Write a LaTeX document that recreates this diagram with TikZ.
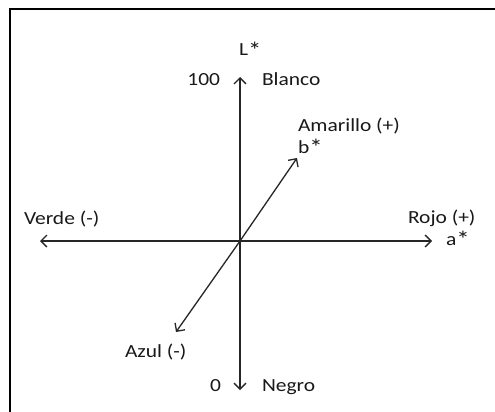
\documentclass[tikz,border=0pt]{standalone}
\usepackage{fontspec}
\setmainfont{Carlito}
\usetikzlibrary{arrows.meta}
\newcommand{\lbl}[1]{\scalebox{1.16}[1]{#1}}
\newcommand{\myast}{\raisebox{-2.5pt}{\scalebox{1.25}{*}}}
\tikzset{
  axis/.style={line width=1.3pt, draw=black!85, -{Straight Barb[length=6pt,width=12pt,line width=1.3pt]}},
  txt/.style={inner sep=0pt, outer sep=0pt, text=black!90, font=\fontsize{18.5}{20}\selectfont},
  frame/.style={line width=2.8pt, draw=black}
}
\begin{document}
\begin{tikzpicture}[x=1pt,y=-1pt]
\useasboundingbox (0,0) rectangle (495,412);
\fill[white] (0,0) rectangle (495,412);
\draw[frame] (10,413) -- (10,9) -- (496,9);
\coordinate (O) at (240,241);
\coordinate (top) at (240,77);
\coordinate (bot) at (240,390);
\coordinate (left) at (40,241);
\coordinate (right) at (432,241);
\coordinate (bp) at (297,158);
\coordinate (bm) at (176,332);
\draw[axis] (O) -- (top);
\draw[axis] (O) -- (bot);
\draw[axis] (O) -- (left);
\draw[axis] (O) -- (right);
\draw[axis] (O) -- (bp);
\draw[axis] (O) -- (bm);
\node[txt, anchor=base west] (Lstar) at (239,56) {\lbl{L\myast}};
\node[txt, anchor=base east] (hundred) at (220,85) {\lbl{100}};
\node[txt, anchor=base west] (blanco) at (262,85) {\lbl{Blanco}};
\node[txt, anchor=base west] (amarillo) at (298,131) {\lbl{Amarillo (+)}};
\node[txt, anchor=base west] (bstar) at (298,153) {\lbl{b\myast}};
\node[txt, anchor=base west] (verde) at (24,224) {\lbl{Verde (-)}};
\node[txt, anchor=base west] (rojo) at (408,223) {\lbl{Rojo (+)}};
\node[txt, anchor=base west] (astar) at (446,245) {\lbl{a\myast}};
\node[txt, anchor=base west] (azul) at (125,357) {\lbl{Azul (-)}};
\node[txt, anchor=base west] (zero) at (210,391) {\lbl{0}};
\node[txt, anchor=base west] (negro) at (262,391) {\lbl{Negro}};
\end{tikzpicture}
\end{document}
